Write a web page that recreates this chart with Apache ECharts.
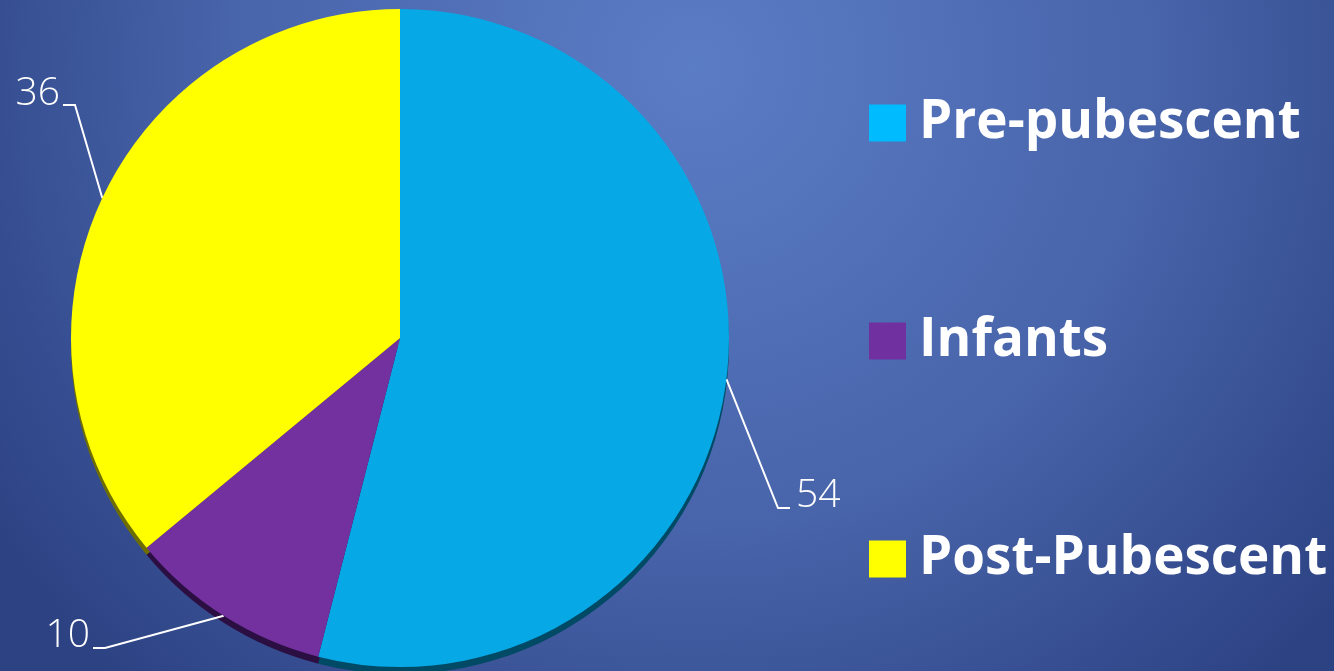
<!DOCTYPE html>
<html>
<head>
<meta charset="utf-8">
<script src="https://cdn.jsdelivr.net/npm/echarts@6/dist/echarts.min.js"></script>
<style>
html,body{margin:0;padding:0;width:100%;height:100%;}
#chart{width:1334px;height:671px;}
</style>
</head>
<body>
<div id="chart"></div>
<script>
var categories = ['Pre-pubescent', 'Infants', 'Post-Pubescent'];
var values = [54, 10, 36];

var sliceColors = ['#06a9e6', '#7331a0', '#ffff00'];
var sideColors = ['#004a66', '#2c0f42', '#6e6e00'];
var legendColors = ['#00bcff', '#7030a0', '#ffff00'];

// where each value label sits, and the elbow of its leader line
var labelSpots = [
    {x: 796, y: 496, align: 'left', elbow: [778, 508], end: [790, 508]},
    {x: 90, y: 636, align: 'right', elbow: [105, 648], end: [93, 648]},
    {x: 60, y: 94, align: 'right', elbow: [75, 105], end: [63, 105]}
];

var topData = [];
var sideData = [];
for (var i = 0; i < categories.length; i++) {
    topData.push({name: categories[i], value: values[i], itemStyle: {color: sliceColors[i]}});
    sideData.push({name: categories[i], value: values[i], itemStyle: {color: sideColors[i]}});
}

var legendData = categories.map(function (c, i) {
    return {name: c, itemStyle: {color: legendColors[i]}};
});

var option = {
    backgroundColor: {
        type: 'radial',
        x: 0.52,
        y: 0.1,
        r: 1.25,
        colorStops: [
            {offset: 0, color: '#5b7dc6'},
            {offset: 0.55, color: '#4864aa'},
            {offset: 1, color: '#2c4283'}
        ]
    },
    legend: {
        orient: 'vertical',
        left: 864,
        top: 91,
        itemWidth: 37,
        itemHeight: 37,
        itemGap: 164,
        icon: 'rect',
        selectedMode: false,
        data: legendData,
        textStyle: {
            color: '#fff',
            fontFamily: 'Open Sans',
            fontWeight: 'bold',
            fontSize: 53,
            lineHeight: 54,
            padding: [0, 0, 0, 8]
        }
    },
    series: [
        {
            type: 'pie',
            name: 'side',
            center: [400, 345],
            radius: 329,
            startAngle: 90,
            clockwise: true,
            silent: true,
            z: 1,
            label: {show: false},
            labelLine: {show: false},
            data: sideData
        },
        {
            type: 'pie',
            name: 'top',
            center: [400, 338],
            radius: 329,
            startAngle: 90,
            clockwise: true,
            z: 2,
            itemStyle: {borderWidth: 0},
            label: {
                show: true,
                position: 'outside',
                formatter: '{c}',
                color: '#fff',
                fontFamily: 'Open Sans',
                fontWeight: 300,
                fontSize: 39
            },
            labelLine: {
                show: true,
                length: 10,
                length2: 10,
                lineStyle: {color: '#fff', width: 2}
            },
            labelLayout: function (params) {
                var s = labelSpots[params.dataIndex];
                var pts = params.labelLinePoints;
                var start = pts ? pts[0] : s.elbow;
                return {
                    x: s.x,
                    y: s.y,
                    align: s.align,
                    verticalAlign: 'middle',
                    labelLinePoints: [start, s.elbow, s.end]
                };
            },
            data: topData
        }
    ]
};

var chart = echarts.init(document.getElementById('chart'));
chart.setOption(option);
</script>
</body>
</html>
